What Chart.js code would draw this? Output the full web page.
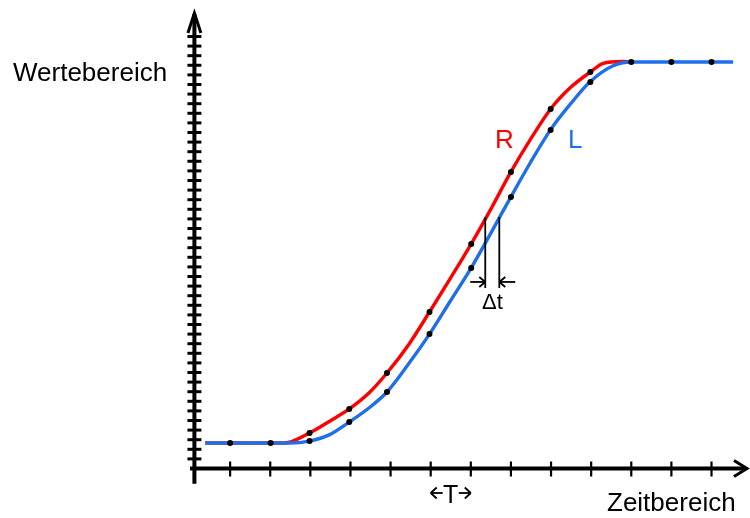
<!DOCTYPE html>
<html>
<head>
<meta charset="utf-8">
<script src="https://cdn.jsdelivr.net/npm/chart.js@4.4.1/dist/chart.umd.min.js"></script>
<style>
  html, body { margin: 0; padding: 0; background: #fff; }
  #grafico { display: block; }
</style>
</head>
<body>
<canvas id="grafico" width="750" height="518"></canvas>
<script>
// Kurve R (rot) und Kurve L (blau), x in Zeitschritten, y in Skalenstrichen
const rX = [0.38, 2.36, 2.98, 3.47, 3.97, 4.46, 4.91, 5.45, 5.97, 6.49, 7.01, 7.51, 8.0, 8.49, 8.99, 9.49, 9.98, 10.3, 10.77, 11.0];
const rY = [2.66, 2.66, 3.70, 4.9, 6.2, 7.86, 9.95, 12.9, 16.3, 19.8, 23.4, 27.1, 30.9, 34.3, 37.45, 39.7, 41.3, 42.2, 42.4, 42.34];

const lX = [0.38, 2.48, 2.98, 3.47, 3.97, 4.46, 4.91, 5.45, 5.97, 6.49, 7.01, 7.51, 8.0, 8.49, 8.99, 9.49, 9.98, 10.52, 11.0, 13.54];
const lY = [2.66, 2.66, 2.86, 3.5, 4.84, 6.3, 7.97, 10.9, 14.0, 17.45, 20.9, 24.6, 28.3, 31.9, 35.3, 38.0, 40.3, 41.9, 42.34, 42.34];

// Abtastpunkte
const punkteRX = [2.98, 3.97, 4.91, 5.97, 7.01, 8.0, 8.99, 9.98];
const punkteRY = [3.70, 6.2, 9.95, 16.3, 23.39, 30.89, 37.45, 41.3];
const punkteLX = [1.0, 2.01, 2.98, 3.97, 4.91, 5.97, 7.01, 8.0, 8.99, 9.98, 11.0, 12.0, 13.0];
const punkteLY = [2.66, 2.66, 2.86, 4.84, 7.97, 14.01, 20.89, 28.28, 35.26, 40.26, 42.34, 42.34, 42.34];

// Skalenstriche
const xTicks = [1, 2, 3, 4, 5, 6, 7, 8, 9, 10, 11, 12, 13];
const yTicks = Array.from({ length: 45 }, (_, i) => i + 1);

// Delta-t Markierung
const dtRotX = 7.36, dtBlauX = 7.71, dtOben = 26.2, dtUnten = 18.8, dtPfeilY = 19.43;

const ROT = '#ff0000';
const BLAU = '#1f6fea';
const SCHRIFT = '"Liberation Sans", Arial, sans-serif';

const zuPunkten = (xs, ys) => xs.map((x, i) => ({ x: x, y: ys[i] }));

const linie = (ctx, x1, y1, x2, y2) => {
    ctx.beginPath();
    ctx.moveTo(x1, y1);
    ctx.lineTo(x2, y2);
    ctx.stroke();
}

const achsen = {
    id: 'achsen',
    afterDraw(chart) {
        const { ctx, scales: { x, y } } = chart;
        ctx.save();
        ctx.strokeStyle = '#000';
        ctx.fillStyle = '#000';

        const ax = x.getPixelForValue(0.11);
        const ay = y.getPixelForValue(0);

        // y-Achse mit Pfeil
        ctx.lineWidth = 4;
        linie(ctx, ax, y.getPixelForValue(-1.6), ax, 14);
        ctx.lineWidth = 3;
        ctx.beginPath();
        ctx.moveTo(ax - 6.5, 33);
        ctx.lineTo(ax, 13);
        ctx.lineTo(ax + 6.5, 33);
        ctx.stroke();

        // x-Achse mit Pfeil
        ctx.lineWidth = 4;
        linie(ctx, x.getPixelForValue(0), ay, 746, ay);
        ctx.lineWidth = 3;
        ctx.beginPath();
        ctx.moveTo(734, ay - 8);
        ctx.lineTo(747, ay);
        ctx.lineTo(734, ay + 8);
        ctx.stroke();

        // Striche
        ctx.lineWidth = 3;
        yTicks.forEach(t => {
            const py = y.getPixelForValue(t);
            linie(ctx, ax - 7, py, ax + 7, py);
        });
        ctx.lineWidth = 2.2;
        xTicks.forEach(t => {
            const px = x.getPixelForValue(t);
            linie(ctx, px, ay - 7, px, ay + 8);
        });

        // Delta t
        ctx.lineWidth = 1.8;
        const xr = x.getPixelForValue(dtRotX), xb = x.getPixelForValue(dtBlauX);
        linie(ctx, xr, y.getPixelForValue(dtOben), xr, y.getPixelForValue(dtUnten));
        linie(ctx, xb, y.getPixelForValue(dtOben), xb, y.getPixelForValue(dtUnten));
        const pY = y.getPixelForValue(dtPfeilY);
        linie(ctx, xr - 15, pY, xr, pY);
        linie(ctx, xr - 6, pY - 5, xr, pY);
        linie(ctx, xr - 6, pY + 5, xr, pY);
        linie(ctx, xb, pY, xb + 16, pY);
        linie(ctx, xb + 6, pY - 5, xb, pY);
        linie(ctx, xb + 6, pY + 5, xb, pY);

        // T Periode
        const t0 = x.getPixelForValue(6), t1 = x.getPixelForValue(7);
        const tY = 493;
        ctx.lineWidth = 1.8;
        linie(ctx, t0, tY, t0 + 12, tY);
        linie(ctx, t0 + 6, tY - 5.5, t0, tY);
        linie(ctx, t0 + 6, tY + 5.5, t0, tY);
        linie(ctx, t1 - 12, tY, t1, tY);
        linie(ctx, t1 - 6, tY - 5.5, t1, tY);
        linie(ctx, t1 - 6, tY + 5.5, t1, tY);

        // Texte
        ctx.textBaseline = 'alphabetic';
        ctx.textAlign = 'left';
        ctx.font = '26px ' + SCHRIFT;
        ctx.fillText('Wertebereich', 13, 81);
        ctx.fillText('Zeitbereich', 607, 511);
        ctx.textAlign = 'center';
        ctx.font = '25px ' + SCHRIFT;
        ctx.fillText('T', (t0 + t1) / 2, 503);
        ctx.textAlign = 'left';
        ctx.font = '22px ' + SCHRIFT;
        ctx.fillText('\u0394t', 482, 309);
        ctx.font = '26px ' + SCHRIFT;
        ctx.fillStyle = ROT;
        ctx.fillText('R', 495, 148);
        ctx.fillStyle = BLAU;
        ctx.fillText('L', 568, 148);
        ctx.restore();
    }
}

const ctx = document.getElementById('grafico');
window.chartKurven = new Chart(ctx, {
    type: 'scatter',
    data: {
        datasets: [
            {
                label: 'R',
                data: zuPunkten(rX, rY),
                showLine: true,
                borderColor: ROT,
                borderWidth: 3.4,
                pointRadius: 0,
                cubicInterpolationMode: 'monotone',
                order: 3
            },
            {
                label: 'L',
                data: zuPunkten(lX, lY),
                showLine: true,
                borderColor: BLAU,
                borderWidth: 3.4,
                pointRadius: 0,
                cubicInterpolationMode: 'monotone',
                order: 2
            },
            {
                label: 'Punkte R',
                data: zuPunkten(punkteRX, punkteRY),
                pointRadius: 3,
                pointBackgroundColor: '#000',
                pointBorderWidth: 0,
                order: 1
            },
            {
                label: 'Punkte L',
                data: zuPunkten(punkteLX, punkteLY),
                pointRadius: 3,
                pointBackgroundColor: '#000',
                pointBorderWidth: 0,
                order: 0
            }
        ]
    },
    options: {
        responsive: false,
        animation: false,
        devicePixelRatio: 1,
        layout: {
            padding: { left: 190, right: 0, top: 12, bottom: 49.5 }
        },
        plugins: {
            legend: { display: false },
            tooltip: { enabled: false }
        },
        scales: {
            x: { type: 'linear', display: false, min: 0, max: 13.86 },
            y: { type: 'linear', display: false, min: 0, max: 47.55 }
        }
    },
    plugins: [achsen]
});
</script>
</body>
</html>
